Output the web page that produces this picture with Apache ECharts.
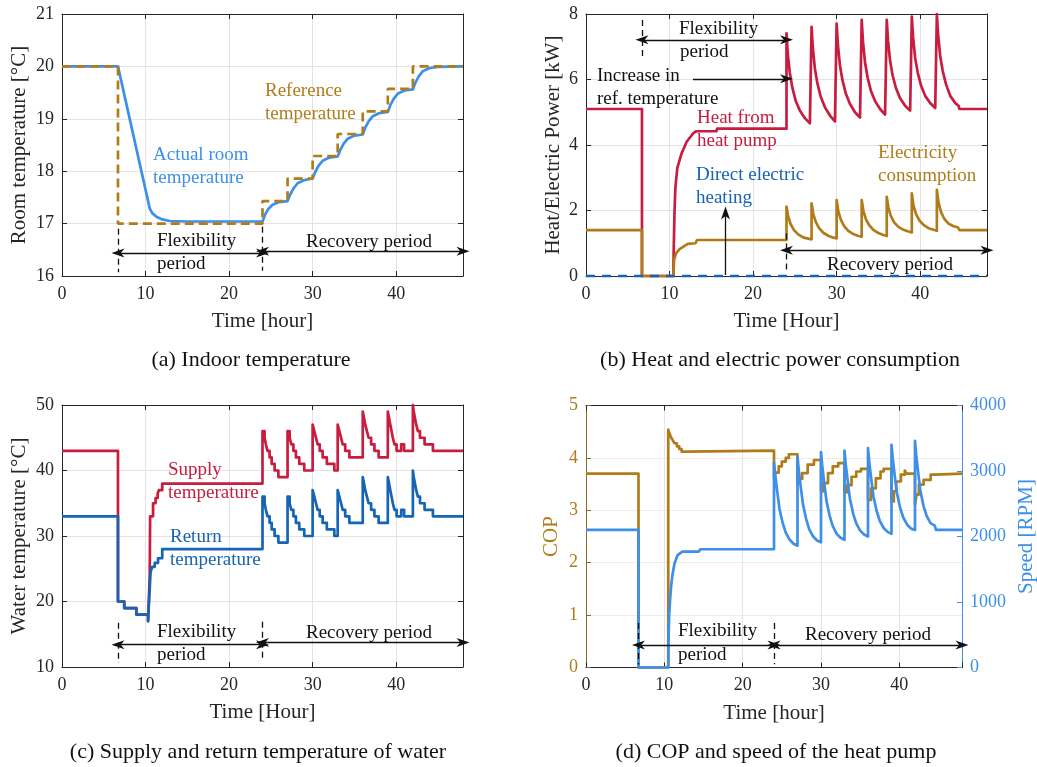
<!DOCTYPE html>
<html>
<head>
<meta charset="utf-8">
<script src="https://cdn.jsdelivr.net/npm/echarts@6.0.0/dist/echarts.min.js"></script>
<style>
html, body { margin: 0; padding: 0; background: #fff; }
#main { width: 1037px; height: 767px; }
</style>
</head>
<body>
<div id="main"></div>
<script>
// (a) indoor temperature [hour, degC]
var roomActual = [[0,20],[6.7,20],[10.5,17.29],[10.8,17.2],[11.3,17.13],[12,17.08],[12.9,17.05],[15,17.04],[24,17.04],
    [24.3,17.17],[24.7,17.28],[25.2,17.36],[26,17.41],[27,17.43],
    [27.3,17.55],[27.7,17.67],[28.2,17.77],[29,17.83],[30,17.86],
    [30.3,17.98],[30.7,18.1],[31.2,18.2],[32,18.26],[33,18.28],
    [33.3,18.4],[33.7,18.52],[34.2,18.62],[35,18.68],[36,18.7],
    [36.3,18.83],[36.7,18.95],[37.2,19.05],[38,19.11],[39,19.13],
    [39.3,19.26],[39.7,19.38],[40.2,19.48],[41,19.54],[42,19.56],
    [42.3,19.69],[42.7,19.81],[43.2,19.91],[44,19.97],[45,19.99],[48,20]];
var roomRef = [[0,20],[6.7,20],[6.7,17],[24,17],[24,17.43],[27,17.43],[27,17.86],[30,17.86],[30,18.29],[33,18.29],
    [33,18.71],[36,18.71],[36,19.14],[39,19.14],[39,19.57],[42,19.57],[42,20],[48,20]];

// (b) heat and electric power [hour, kW]
var heatPump = [[0,5.1],[6.7,5.1],[6.7,0],[10.45,0],[10.5,0.8],[10.6,2.0],[10.7,2.7],[10.93,3.3],[11.45,3.75],[12.05,4.1],[12.84,4.36],[13.2,4.42],[15.6,4.42],[15.7,4.5],[24,4.5],
    [24,7.41],[24.15,6.8],[24.4,6.2],[24.7,5.75],[25.1,5.35],[25.6,5.05],[26.2,4.82],[26.8,4.66],[27,4.61],
    [27,7.61],[27.15,6.97],[27.4,6.33],[27.7,5.88],[28.1,5.47],[28.6,5.15],[29.2,4.9],[29.8,4.72],[30,4.68],
    [30,7.71],[30.15,7.07],[30.4,6.43],[30.7,5.98],[31.1,5.57],[31.6,5.25],[32.2,5.0],[32.8,4.84],[33,4.8],
    [33,7.82],[33.15,7.17],[33.4,6.52],[33.7,6.07],[34.1,5.66],[34.6,5.34],[35.2,5.1],[35.8,4.93],[36,4.88],
    [36,7.82],[36.15,7.2],[36.4,6.57],[36.7,6.13],[37.1,5.74],[37.6,5.43],[38.2,5.2],[38.8,5.05],[39,5.0],
    [39,7.92],[39.15,7.3],[39.4,6.66],[39.7,6.22],[40.1,5.82],[40.6,5.5],[41.2,5.28],[41.8,5.13],[42,5.09],
    [42,8.0],[42.15,7.36],[42.4,6.72],[42.7,6.26],[43.1,5.85],[43.6,5.5],[44.2,5.28],[44.6,5.2],[44.7,5.1],[48,5.1]];
var electricity = [[0,1.4],[6.7,1.4],[6.7,0],[10.45,0],[10.55,0.5],[10.8,0.7],[11.2,0.82],[11.8,0.92],[12.2,0.98],[13.1,1.0],[13.3,1.1],[24,1.1],
    [24,2.12],[24.2,1.82],[24.5,1.58],[24.9,1.4],[25.4,1.27],[26,1.18],[26.6,1.14],[27,1.12],
    [27,2.22],[27.2,1.9],[27.5,1.65],[27.9,1.46],[28.4,1.32],[29,1.23],[29.6,1.17],[30,1.15],
    [30,2.32],[30.2,1.98],[30.5,1.72],[30.9,1.52],[31.4,1.38],[32,1.28],[32.6,1.22],[33,1.2],
    [33,2.32],[33.2,1.99],[33.5,1.74],[33.9,1.55],[34.4,1.41],[35,1.31],[35.6,1.25],[36,1.22],
    [36,2.42],[36.2,2.08],[36.5,1.83],[36.9,1.63],[37.4,1.5],[38,1.41],[38.6,1.36],[39,1.33],
    [39,2.52],[39.2,2.15],[39.5,1.9],[39.9,1.7],[40.4,1.56],[41,1.46],[41.6,1.41],[42,1.38],
    [42,2.63],[42.2,2.24],[42.5,1.95],[42.9,1.74],[43.4,1.6],[44,1.52],[44.5,1.49],[44.7,1.4],[48,1.4]];
var directHeating = [[0,0],[48,0]];

// (c) water temperature [hour, degC], change points of a stepped signal
var supplyTemp = [[0,43],[6.7,20],[7.45,19],[8.9,18],[10.3,17],[10.5,24],[10.55,33],[10.9,35],[11.2,35.8],[11.45,36.5],[11.6,37],[12,38],
    [24,46],[24.25,45],[24.4,44],[24.6,43],[24.85,42],[25.1,41],[25.45,40],[25.9,39],
    [27,46],[27.25,45],[27.45,44],[27.7,43],[28,42],[28.4,41],[29,40],
    [30,47],[30.2,46],[30.4,45],[30.6,44],[30.85,43],[31.2,42],[31.7,41],[32.6,40],
    [33,47],[33.2,46],[33.4,45],[33.6,44],[33.9,43],[34.4,42],
    [36,49],[36.15,48],[36.3,47],[36.5,46],[36.7,45],[37,44],[37.4,43],[37.9,42],
    [39,49],[39.15,48],[39.3,47],[39.45,46],[39.6,45],[39.8,44],[40.05,43],[40.6,44],[40.95,43],
    [42,50],[42.1,49],[42.25,48],[42.4,47],[42.6,46],[42.85,45],[43.4,44],[44.4,43],[48,43]];
var returnTemp = [[0,33],[6.7,20],[7.45,19],[8.9,18],[10.3,17],[10.5,22],[10.6,24.5],[10.8,25.3],[11.1,25.9],[11.5,26.6],[12,28],
    [24,36],[24.25,35],[24.4,34],[24.6,33],[24.85,32],[25.1,31],[25.45,30],[25.9,29],
    [27,36],[27.25,35],[27.45,34],[27.7,33],[28,32],[28.4,31],[29,30],
    [30,37],[30.2,36],[30.4,35],[30.6,34],[30.85,33],[31.2,32],[31.7,31],[32.6,30],
    [33,37],[33.2,36],[33.4,35],[33.6,34],[33.9,33],[34.4,32],
    [36,39],[36.15,38],[36.3,37],[36.5,36],[36.7,35],[37,34],[37.4,33],[37.9,32],
    [39,39],[39.15,38],[39.3,37],[39.45,36],[39.6,35],[39.8,34],[40.05,33],[40.6,34],[40.95,33],
    [42,40],[42.1,39],[42.25,38],[42.4,37],[42.6,36],[42.85,35],[43.4,34],[44.4,33],[48,33]];

// (d) COP (stepped) and compressor speed [hour, RPM]
var copData = [[0,3.7],[6.7,0],[10.5,4.54],[10.7,4.45],[10.9,4.38],[11.1,4.33],[11.3,4.28],[11.6,4.22],[11.9,4.17],[12.2,4.12],[12.8,4.14],
    [24,3.61],[24.2,3.72],[24.6,3.84],[25,3.93],[25.5,4.0],[25.9,4.07],
    [27,3.5],[27.2,3.6],[27.6,3.71],[28.3,3.87],[29.1,3.96],
    [30,3.36],[30.3,3.52],[30.9,3.71],[31.5,3.84],[32.2,3.9],
    [33,3.34],[33.3,3.48],[33.9,3.64],[34.5,3.74],[35.1,3.79],
    [36,3.2],[36.4,3.42],[37,3.61],[37.6,3.74],[38,3.79],
    [39,3.17],[39.3,3.36],[39.6,3.55],[40.2,3.68],[40.7,3.76],[40.9,3.7],
    [42,3.1],[42.2,3.3],[42.5,3.49],[43.1,3.58],[44,3.68],[44.5,3.7],[48,3.7]];
var speedData = [[0,2100],[6.7,2100],[6.7,0],[10.5,0],[10.55,500],[10.62,800],[10.73,1030],[10.85,1220],[11,1385],[11.3,1590],[11.7,1717],[12.3,1768],[14.4,1770],[14.6,1805],[24,1805],
    [24,3130],[24.15,2950],[24.4,2700],[24.7,2420],[25.1,2210],[25.5,2060],[26,1950],[26.5,1890],[27,1860],
    [27,3220],[27.15,3030],[27.4,2770],[27.7,2490],[28.1,2270],[28.5,2110],[29,2000],[29.5,1940],[30,1910],
    [30,3290],[30.15,3090],[30.4,2830],[30.7,2540],[31.1,2320],[31.5,2160],[32,2040],[32.5,1980],[33,1950],
    [33,3310],[33.15,3110],[33.4,2860],[33.7,2570],[34.1,2350],[34.5,2200],[35,2090],[35.5,2030],[36,2000],
    [36,3350],[36.15,3150],[36.4,2890],[36.7,2610],[37.1,2390],[37.5,2240],[38,2130],[38.5,2070],[39,2040],
    [39,3400],[39.15,3200],[39.4,2940],[39.7,2660],[40.1,2440],[40.5,2290],[41,2180],[41.5,2120],[42,2100],
    [42,3460],[42.15,3250],[42.4,2980],[42.7,2690],[43.1,2460],[43.5,2310],[44,2200],[44.5,2170],[44.7,2100],[48,2100]];

var xTicks = [0, 10, 20, 30, 40];

var FONT = '"Liberation Serif", "Times New Roman", serif';
var INK = '#262626';
var GRIDC = '#e4e4e4';
var RED = '#c81d3e';
var GOLD = '#b07c1a';
var SKY = '#3d8fe8';
var NAVY = '#1664b4';
var ARROW = 'path://M0,0L6,14L0,10L-6,14Z';

var grids = [
    { left: 62, top: 14, width: 401, height: 262 },
    { left: 586, top: 14, width: 401, height: 262 },
    { left: 62, top: 405, width: 401, height: 262 },
    { left: 586, top: 405.5, width: 376, height: 262 }
];

function xPair(gi, name) {
    var bottom = {
        type: 'value', gridIndex: gi, min: 0, max: 48, interval: 10, position: 'bottom',
        name: name, nameLocation: 'middle', nameGap: 35, nameMoveOverlap: false,
        nameTextStyle: { fontFamily: FONT, fontSize: 21, color: INK },
        axisLine: { onZero: false, lineStyle: { color: INK, width: 1 } },
        axisTick: { inside: true, length: 5, lineStyle: { color: INK } },
        axisLabel: {
            fontFamily: FONT, fontSize: 18, color: INK, margin: 9,
            formatter: function(v) { return xTicks.indexOf(v) >= 0 ? String(v) : ''; }
        },
        splitLine: { show: true, lineStyle: { color: GRIDC, width: 1 } }
    };
    var top = {
        type: 'value', gridIndex: gi, min: 0, max: 48, interval: 10, position: 'top',
        axisLine: { onZero: false, lineStyle: { color: INK, width: 1 } },
        axisTick: { inside: true, length: 5, lineStyle: { color: INK } },
        axisLabel: { show: false },
        splitLine: { show: false }
    };
    return [bottom, top];
}

function yAxis(gi, pos, min, max, step, opts) {
    var color = opts.color || INK;
    var ax = {
        type: 'value', gridIndex: gi, position: pos, min: min, max: max, interval: step,
        axisLine: { show: true, onZero: false, lineStyle: { color: opts.lineColor || INK, width: 1 } },
        axisTick: { show: true, inside: true, length: 5, lineStyle: { color: opts.lineColor || INK } },
        axisLabel: {
            show: !!opts.labels, fontFamily: FONT, fontSize: 18, color: color, margin: 8,
            formatter: function(v) { return String(v); }
        },
        splitLine: { show: !!opts.split, lineStyle: { color: opts.split || GRIDC, width: 1 } }
    };
    if (opts.name) {
        ax.name = opts.name;
        ax.nameLocation = 'middle';
        ax.nameGap = opts.gap;
        ax.nameMoveOverlap = false;
        ax.nameTextStyle = { fontFamily: FONT, fontSize: 21, color: color };
    }
    return ax;
}

function seg(a, b, heads, dashed) {
    var style = dashed ? { color: '#111', width: 1.3, type: [6, 4] } : { color: '#111', width: 1.3, type: 'solid' };
    return [
        { coord: a, symbol: heads[0], lineStyle: style },
        { coord: b, symbol: heads[1], lineStyle: style }
    ];
}

function notes(items) {
    return {
        silent: true, animation: false,
        symbol: ['none', 'none'], symbolSize: [9, 13],
        label: { show: false },
        emphasis: { disabled: true },
        lineStyle: { color: '#111', width: 1.3, type: 'solid' },
        data: items
    };
}

function line(gi, yIdx, data, color, extra) {
    var s = {
        type: 'line', xAxisIndex: gi * 2, yAxisIndex: yIdx, data: data,
        symbol: 'none', showSymbol: false, clip: false, animation: false,
        lineStyle: { color: color, width: 2.7, join: 'round' },
        itemStyle: { color: color },
        emphasis: { disabled: true }
    };
    for (var k in extra) s[k] = extra[k];
    return s;
}

function txt(x, y, s, color, size, align) {
    return {
        type: 'text', x: x, y: y, silent: true, z: 100,
        style: {
            text: s, fill: color || '#111',
            font: (size || 19) + 'px ' + FONT,
            textAlign: align || 'left', textVerticalAlign: 'middle'
        }
    };
}

var xAxes = [].concat(
    xPair(0, 'Time [hour]'), xPair(1, 'Time [Hour]'),
    xPair(2, 'Time [Hour]'), xPair(3, 'Time [hour]'));

var yAxes = [
    yAxis(0, 'left', 16, 21, 1, { labels: true, split: GRIDC, name: 'Room temperature [°C]', gap: 32 }),
    yAxis(0, 'right', 16, 21, 1, {}),
    yAxis(1, 'left', 0, 8, 2, { labels: true, split: GRIDC, name: 'Heat/Electric Power [kW]', gap: 22 }),
    yAxis(1, 'right', 0, 8, 2, {}),
    yAxis(2, 'left', 10, 50, 10, { labels: true, split: GRIDC, name: 'Water temperature [°C]', gap: 32 }),
    yAxis(2, 'right', 10, 50, 10, {}),
    yAxis(3, 'left', 0, 5, 1, { labels: true, split: '#f3ecdf', name: 'COP', gap: 24, color: GOLD, lineColor: '#8a6a2a' }),
    yAxis(3, 'right', 0, 4000, 1000, { labels: true, name: 'Speed [RPM]', gap: 54, color: SKY, lineColor: SKY })
];

var series = [
    line(0, 0, roomActual, SKY, {
        markLine: notes([
            seg([6.7, 16.9], [6.7, 16.07], ['none', 'none'], true),
            seg([24, 16.94], [24, 16.1], ['none', 'none'], true),
            seg([6.7, 16.44], [24, 16.44], [ARROW, ARROW]),
            seg([24, 16.47], [48, 16.47], [ARROW, ARROW])
        ])
    }),
    line(0, 0, roomRef, GOLD, { lineStyle: { color: GOLD, width: 2.7, type: [9, 5] } }),

    line(1, 2, heatPump, RED, {
        markLine: notes([
            seg([6.7, 7.82], [6.7, 6.6], ['none', 'none'], true),
            seg([6.7, 7.21], [24, 7.21], [ARROW, ARROW]),
            seg([12.8, 6.02], [24, 6.02], ['none', ARROW]),
            seg([24, 1.3], [24, 0.1], ['none', 'none'], true),
            seg([24, 0.79], [48, 0.79], [ARROW, ARROW]),
            seg([16.7, 0.03], [16.7, 1.92], ['none', ARROW])
        ])
    }),
    line(1, 2, electricity, GOLD, {}),
    line(1, 2, directHeating, NAVY, { lineStyle: { color: NAVY, width: 2.7, type: [9, 7] } }),

    line(2, 4, supplyTemp, RED, {
        step: 'end',
        markLine: notes([
            seg([6.7, 16.75], [6.7, 10.6], ['none', 'none'], true),
            seg([24, 16.9], [24, 11.1], ['none', 'none'], true),
            seg([6.7, 13.4], [24, 13.4], [ARROW, ARROW]),
            seg([24, 13.75], [48, 13.75], [ARROW, ARROW])
        ])
    }),
    line(2, 4, returnTemp, NAVY, { step: 'end' }),

    line(3, 6, copData, GOLD, {
        step: 'end',
        markLine: notes([
            seg([6.7, 0.85], [6.7, 0.06], ['none', 'none'], true),
            seg([24, 0.85], [24, 0.06], ['none', 'none'], true),
            seg([6.7, 0.43], [24, 0.43], [ARROW, ARROW]),
            seg([24, 0.43], [48, 0.43], [ARROW, ARROW])
        ])
    }),
    line(3, 7, speedData, SKY, {})
];

var labels = [
    txt(153, 155, 'Actual room', SKY), txt(153, 178, 'temperature', SKY),
    txt(265, 91, 'Reference', GOLD), txt(265, 114, 'temperature', GOLD),
    txt(157, 241, 'Flexibility'), txt(157, 264, 'period'),
    txt(306, 242, 'Recovery period'),

    txt(679, 29, 'Flexibility'), txt(680, 52, 'period'),
    txt(597, 76, 'Increase in'), txt(597, 99, 'ref. temperature'),
    txt(697, 118, 'Heat from', RED), txt(697, 141, 'heat pump', RED),
    txt(696, 175, 'Direct electric', NAVY), txt(696, 198, 'heating', NAVY),
    txt(878, 153, 'Electricity', GOLD), txt(878, 176, 'consumption', GOLD),
    txt(827, 265, 'Recovery period'),

    txt(168, 470, 'Supply', RED), txt(168, 493, 'temperature', RED),
    txt(170, 537, 'Return', NAVY), txt(170, 560, 'temperature', NAVY),
    txt(157, 632, 'Flexibility'), txt(157, 655, 'period'),
    txt(306, 633, 'Recovery period'),

    txt(678, 631, 'Flexibility'), txt(678, 655, 'period'),
    txt(805, 635, 'Recovery period'),

    txt(251, 360, '(a) Indoor temperature', '#111', 22, 'center'),
    txt(780, 360, '(b) Heat and electric power consumption', '#111', 22, 'center'),
    txt(258, 752, '(c) Supply and return temperature of water', '#111', 22, 'center'),
    txt(776, 752, '(d) COP and speed of the heat pump', '#111', 22, 'center')
];

var chart = echarts.init(document.getElementById('main'), null, { renderer: 'canvas' });
chart.setOption({
    backgroundColor: '#ffffff',
    animation: false,
    textStyle: { fontFamily: FONT },
    grid: grids.map(function(g) {
        return { left: g.left, top: g.top, width: g.width, height: g.height, containLabel: false, outerBoundsMode: 'none' };
    }),
    xAxis: xAxes,
    yAxis: yAxes,
    series: series,
    graphic: labels
});
</script>
</body>
</html>
